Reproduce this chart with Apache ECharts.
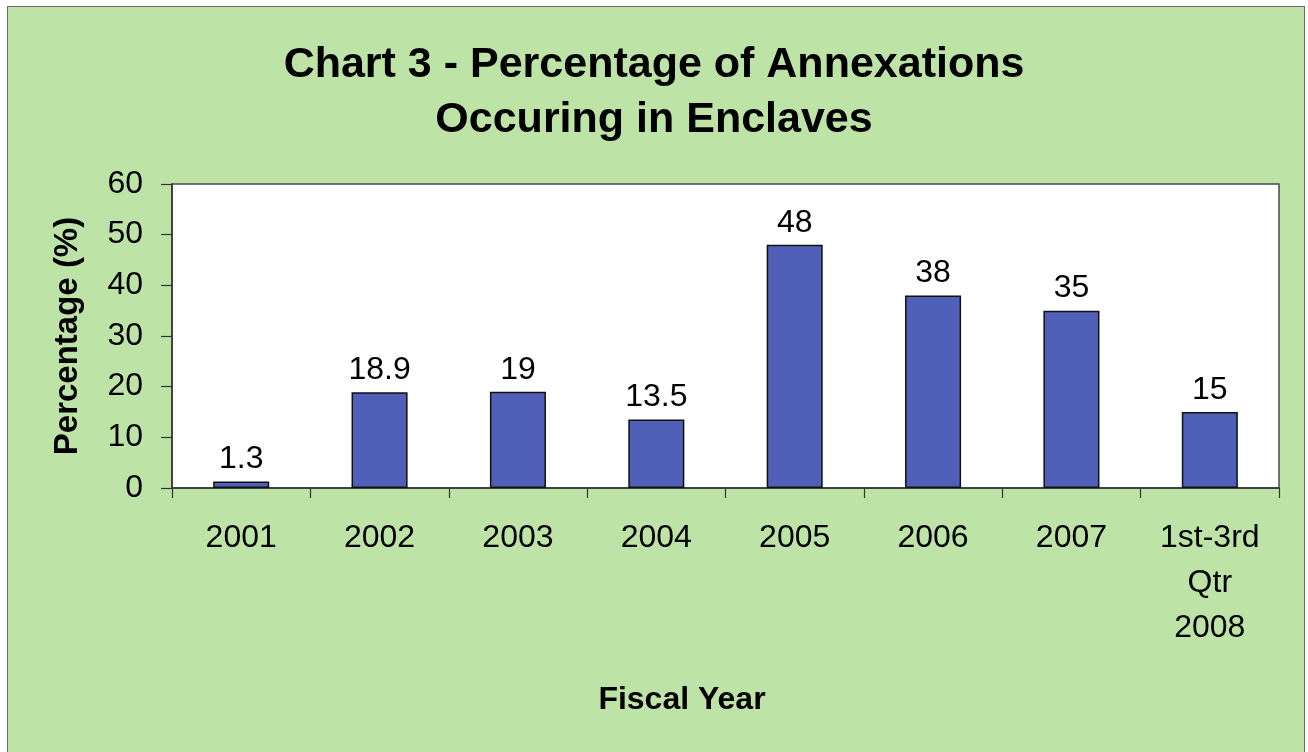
<!DOCTYPE html>
<html>
<head>
<meta charset="utf-8">
<script src="https://cdn.jsdelivr.net/npm/echarts@6/dist/echarts.min.js"></script>
<style>
  html, body { margin: 0; padding: 0; background: #ffffff; width: 1308px; height: 752px; overflow: hidden; }
  #frame { position: absolute; left: 7px; top: 6px; width: 1296px; height: 760px; background: #bde3a7; border: 1.5px solid #6a6a6a; }
  #chart { position: absolute; left: 0; top: 0; width: 1308px; height: 752px; }
</style>
</head>
<body>
<div id="frame"></div>
<div id="chart"></div>
<script>
const categories = ['2001', '2002', '2003', '2004', '2005', '2006', '2007', '1st-3rd\nQtr\n2008'];
const percentages = [1.3, 18.9, 19, 13.5, 48, 38, 35, 15];
const yTicks = { min: 0, max: 60, interval: 10 };
const titleText = 'Chart 3 - Percentage of Annexations\nOccuring in Enclaves';
const yAxisName = 'Percentage (%)';
const xAxisName = 'Fiscal Year';

const FONT = '"Liberation Sans", Arial, sans-serif';
const chart = echarts.init(document.getElementById('chart'));
chart.setOption({
  animation: false,
  backgroundColor: 'transparent',
  title: {
    text: titleText,
    left: 'center',
    top: 33,
    textStyle: { fontFamily: FONT, fontSize: 43, fontWeight: 'bold', color: '#000', lineHeight: 55 }
  },
  grid: {
    left: 172, top: 184, right: 29, bottom: 264,
    show: true, backgroundColor: '#ffffff', borderColor: '#4a4a4a', borderWidth: 1.5
  },
  xAxis: {
    type: 'category',
    data: categories,
    axisLine: { lineStyle: { color: '#333', width: 1.5 } },
    axisTick: { show: true, length: 10, inside: false, lineStyle: { color: '#333', width: 1.2 } },
    axisLabel: { fontFamily: FONT, fontSize: 32, color: '#000', margin: 28, lineHeight: 45, interval: 0 }
  },
  yAxis: {
    type: 'value',
    min: yTicks.min, max: yTicks.max, interval: yTicks.interval,
    name: yAxisName,
    nameLocation: 'middle',
    nameGap: 88,
    nameTextStyle: { fontFamily: FONT, fontSize: 33, fontWeight: 'bold', color: '#000' },
    axisLine: { show: true, lineStyle: { color: '#333', width: 1.5 } },
    axisTick: { show: true, length: 11, lineStyle: { color: '#333', width: 1.2 } },
    axisLabel: { fontFamily: FONT, fontSize: 32, color: '#000', margin: 29 },
    splitLine: { show: false }
  },
  graphic: [{
    type: 'text',
    style: {
      text: xAxisName, x: 682, y: 700, textAlign: 'center', textVerticalAlign: 'middle',
      font: 'bold 32px ' + FONT, fill: '#000'
    }
  }],
  series: [{
    type: 'bar',
    data: percentages,
    barWidth: '40.5%',
    itemStyle: { color: '#5060b8', borderColor: '#111', borderWidth: 1.5 },
    label: { show: true, position: 'top', distance: 6, fontFamily: FONT, fontSize: 32, color: '#000' }
  }]
});
</script>
</body>
</html>
